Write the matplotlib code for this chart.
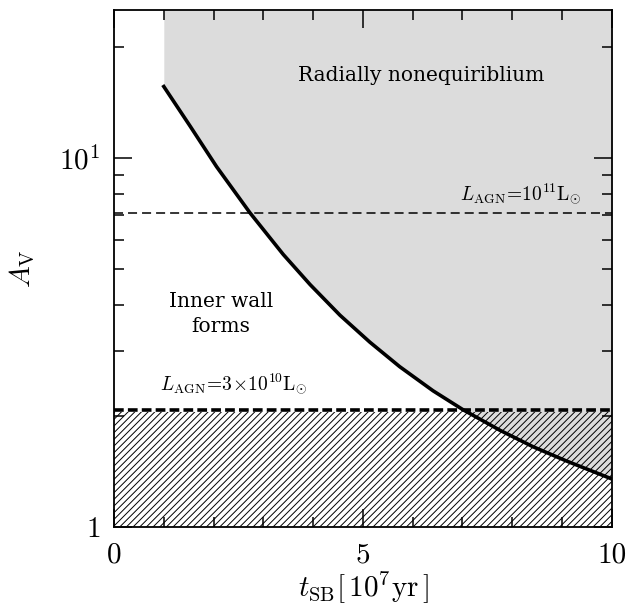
import numpy as np
import matplotlib
matplotlib.use('Agg')
import matplotlib.pyplot as plt
from matplotlib.ticker import FixedLocator, FixedFormatter

plt.rcParams['mathtext.fontset'] = 'cm'
plt.rcParams['font.family'] = 'serif'
plt.rcParams['font.serif'] = ['cmr10', 'DejaVu Serif']
plt.rcParams['axes.formatter.use_mathtext'] = True
plt.rcParams['lines.scale_dashes'] = False
plt.rcParams['hatch.linewidth'] = 0.7

# boundary curve
t_sb = [1.0, 1.53, 2.06, 2.73, 3.40, 3.94, 4.54, 5.14, 5.74, 6.41,
        7.01, 7.75, 8.42, 9.09, 10.0]
a_v = [15.63, 12.2, 9.48, 7.11, 5.48, 4.54, 3.75, 3.17, 2.72, 2.34,
       2.08, 1.83, 1.65, 1.51, 1.35]

av_l11 = 7.08      # L_AGN = 1e11 Lsun
av_l3e10 = 2.08    # L_AGN = 3e10 Lsun
hatch_top = 2.05

xmin, xmax = 0, 10
ymin, ymax = 1, 25.2

fig = plt.figure(figsize=(6.3, 6.07), dpi=100)
ax = fig.add_axes([0.181, 0.1318, 0.79, 0.8517])

ax.set_yscale('log')
ax.set_xlim(xmin, xmax)
ax.set_ylim(ymin, ymax)

# grey region above the curve
ax.fill_between(t_sb, a_v, ymax, color='#dcdcdc', lw=0, zorder=1)
# hatched band at the bottom
ax.fill_between([xmin, xmax], [ymin, ymin], [hatch_top, hatch_top],
                facecolor='none', edgecolor='black', hatch='/////', lw=0, zorder=2)

ax.plot(t_sb, a_v, color='black', lw=2.6, zorder=4, solid_joinstyle='round')
ax.axhline(av_l11, color='black', lw=1.1, dashes=(6.5, 3.6), zorder=3)
ax.axhline(av_l3e10, color='black', lw=2.6, dashes=(7, 3), zorder=3)

txt_font = dict(family='DejaVu Serif', fontsize=14.5)
ax.text(6.18, 16.7, 'Radially nonequiriblium', ha='center', va='center', **txt_font)
ax.text(2.15, 3.79, 'Inner wall\nforms', ha='center', va='center',
        linespacing=1.4, **txt_font)
ax.text(0.92, 2.45, r'$L_{\rm AGN}\!=\!3\!\times\!10^{10}{\rm L}_{\odot}$',
        ha='left', va='center', fontsize=14)
ax.text(6.95, 8.03, r'$L_{\rm AGN}\!=\!10^{11}{\rm L}_{\odot}$',
        ha='left', va='center', fontsize=14)

ax.xaxis.set_major_locator(FixedLocator([0, 5, 10]))
ax.xaxis.set_major_formatter(FixedFormatter(['0', '5', '10']))
ax.xaxis.set_minor_locator(FixedLocator([1, 2, 3, 4, 6, 7, 8, 9]))

ax.yaxis.set_major_locator(FixedLocator([1, 10]))
ax.yaxis.set_major_formatter(FixedFormatter([r'$1$', r'$10^{1}$']))
ax.yaxis.set_minor_locator(FixedLocator([2, 3, 4, 5, 6, 7, 8, 9, 20]))
ax.yaxis.set_minor_formatter(FixedFormatter([''] * 9))

ax.tick_params(which='both', direction='in', top=True, right=True, labelsize=21)
ax.tick_params(axis='x', pad=11)
ax.tick_params(axis='y', pad=10)
ax.tick_params(which='major', length=13, width=1.1)
ax.tick_params(which='minor', length=7, width=1.1)
for s in ax.spines.values():
    s.set_linewidth(1.3)
    s.set_zorder(5)

ax.set_xlabel(r'$t_{\rm SB}[\,10^{7}{\rm yr}\,]$', fontsize=21, labelpad=0)
ax.set_ylabel(r'$A_{\rm V}$', fontsize=21, labelpad=16)

fig.savefig('out.png', dpi=100)
